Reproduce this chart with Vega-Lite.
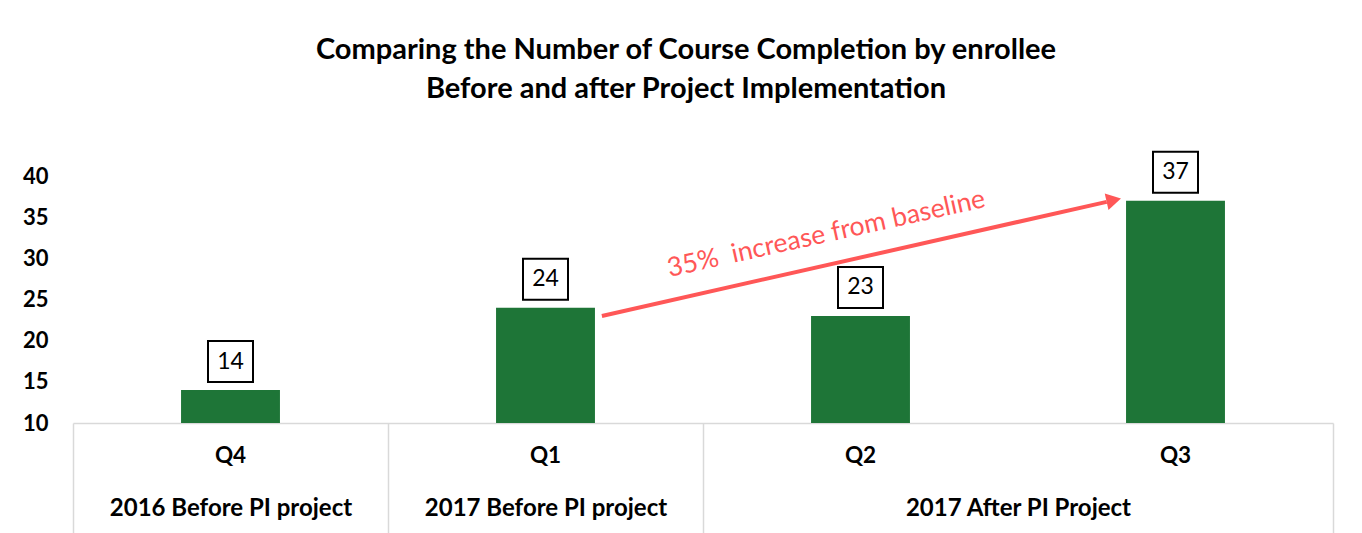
{
  "$schema": "https://vega.github.io/schema/vega-lite/v6.json",
  "autosize": {"type": "none"},
  "width": 1260,
  "height": 247,
  "padding": {"left": 73, "top": 176, "right": 29, "bottom": 110},
  "background": "white",
  "config": {"font": "Lato", "view": {"stroke": null}},
  "title": {
    "text": ["Comparing the Number of Course Completion by enrollee", "Before and after Project Implementation"],
    "font": "Lato",
    "fontSize": 29,
    "fontWeight": "bold",
    "color": "#000000",
    "lineHeight": 39,
    "anchor": "middle",
    "frame": "group",
    "dx": -17,
    "offset": 44
  },
  "layer": [
    {
      "data": {"values": [
        {"quarter": "Q4", "completions": 14},
        {"quarter": "Q1", "completions": 24},
        {"quarter": "Q2", "completions": 23},
        {"quarter": "Q3", "completions": 37}
      ]},
      "encoding": {
        "x": {
          "field": "quarter", "type": "nominal", "sort": null,
          "scale": {"paddingInner": 0, "paddingOuter": 0},
          "axis": {
            "title": null, "orient": "bottom", "domain": true, "domainColor": "#d9d9d9", "domainWidth": 1.5,
            "ticks": false, "labelFontSize": 22.5, "labelFontWeight": "bold", "labelColor": "#000000",
            "labelPadding": 21, "labelAngle": 0
          }
        },
        "y": {
          "field": "completions", "type": "quantitative",
          "scale": {"domain": [10, 40], "nice": false, "zero": false},
          "axis": {
            "title": null, "values": [10, 15, 20, 25, 30, 35, 40], "domain": false, "ticks": false, "grid": false,
            "labelFontSize": 22, "labelFontWeight": "bold", "labelColor": "#000000", "labelPadding": 25
          }
        }
      },
      "layer": [
        {"mark": {"type": "bar", "width": {"band": 0.314}, "color": "#1e7537"},
         "encoding": {"y2": {"datum": 10}}},
        {"mark": {"type": "point", "shape": "M-1,-0.91L1,-0.91L1,0.91L-1,0.91Z", "size": 2025, "filled": true, "fill": "#ffffff", "stroke": "#000000", "strokeWidth": 2, "opacity": 1, "yOffset": -28.5}},
        {"mark": {"type": "text", "fontSize": 23, "yOffset": -28.5, "baseline": "middle", "align": "center", "color": "#000000", "font": "Lato"},
         "encoding": {"text": {"field": "completions", "type": "quantitative"}}}
      ]
    },
    {
      "layer": [
        {
          "data": {"values": [{"x0": 1.679, "y0": 23.0, "x1": 3.2816, "y1": 36.86}]},
          "mark": {"type": "rule", "color": "#ff5757", "strokeWidth": 4},
          "encoding": {
            "x": {
              "field": "x0", "type": "quantitative",
              "scale": {"domain": [0, 4], "nice": false, "zero": false},
              "axis": {
                "title": null, "orient": "bottom", "values": [0, 0.5, 1, 1.5, 2, 3, 4],
                "labelExpr": "datum.value == 0.5 ? '2016 Before PI project' : (datum.value == 1.5 ? '2017 Before PI project' : (datum.value == 3 ? '2017 After PI Project' : ''))",
                "domain": false, "grid": false, "ticks": true, "tickSize": 110, "tickWidth": 1.5,
                "tickColor": {"condition": {"test": "datum.value == 0.5 || datum.value == 1.5 || datum.value == 3", "value": "transparent"}, "value": "#d9d9d9"},
                "labelPadding": -37, "labelFontSize": 24, "labelFontWeight": "bold", "labelColor": "#000000", "labelLimit": 600
              }
            },
            "y": {"field": "y0", "type": "quantitative", "scale": {"domain": [10, 40], "nice": false, "zero": false}, "axis": null},
            "x2": {"field": "x1"},
            "y2": {"field": "y1"}
          }
        },
        {
          "data": {"values": [{"xh": 3.3041, "yh": 37.06}]},
          "mark": {"type": "point", "shape": "triangle-up", "size": 289, "filled": true, "color": "#ff5757", "opacity": 1, "angle": 77.3},
          "encoding": {
            "x": {"field": "xh", "type": "quantitative"},
            "y": {"field": "yh", "type": "quantitative", "scale": {"domain": [10, 40], "nice": false, "zero": false}, "axis": null}
          }
        },
        {
          "data": {"values": [{"label": "35%\u00a0\u00a0increase from baseline", "xt": 2.3968, "yt": 32.0}]},
          "mark": {"type": "text", "fontSize": 26.5, "color": "#ff5757", "angle": 347.5, "align": "center", "baseline": "alphabetic", "font": "Lato"},
          "encoding": {
            "x": {"field": "xt", "type": "quantitative"},
            "y": {"field": "yt", "type": "quantitative", "scale": {"domain": [10, 40], "nice": false, "zero": false}, "axis": null},
            "text": {"field": "label", "type": "nominal"}
          }
        }
      ]
    }
  ],
  "resolve": {"scale": {"x": "independent"}, "axis": {"x": "independent", "y": "independent"}}
}
